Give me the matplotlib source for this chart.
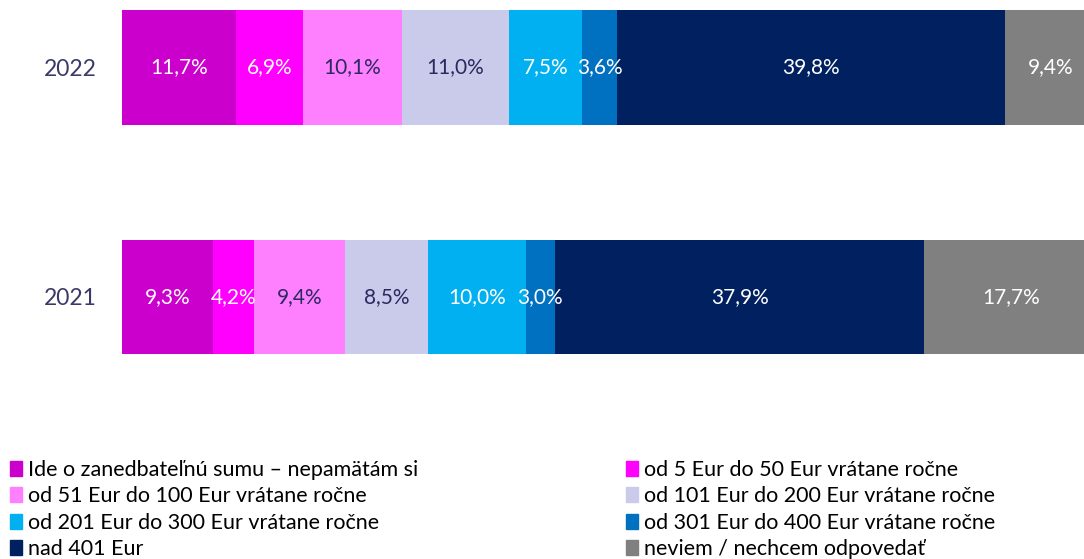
import matplotlib.pyplot as plt
from matplotlib.patches import Patch

plt.rcParams['font.family'] = ['Lato', 'DejaVu Sans']

years = ['2021', '2022']
categories = [
    'Ide o zanedbateľnú sumu – nepamätám si',
    'od 5 Eur do 50 Eur vrátane ročne',
    'od 51 Eur do 100 Eur vrátane ročne',
    'od 101 Eur do 200 Eur vrátane ročne',
    'od 201 Eur do 300 Eur vrátane ročne',
    'od 301 Eur do 400 Eur vrátane ročne',
    'nad 401 Eur',
    'neviem / nechcem odpovedať',
]
vals_2021 = [9.3, 4.2, 9.4, 8.5, 10.0, 3.0, 37.9, 17.7]
vals_2022 = [11.7, 6.9, 10.1, 11.0, 7.5, 3.6, 39.8, 9.4]

colors = ['#CC00CC', '#FF00FF', '#FF80FF', '#CACAEA',
          '#00B0F0', '#0070C0', '#002060', '#808080']
text_colors = ['white', 'white', '#2B2A60', '#2B2A60',
               'white', 'white', 'white', 'white']

fig = plt.figure(figsize=(10.84, 5.59), dpi=100)
# plot area runs a bit past the right edge of the picture, like the original
ax = fig.add_axes([0.1125, 0.2844, 0.8995, 0.7156])

data = [vals_2021, vals_2022]
left = [0.0, 0.0]
for i, cat in enumerate(categories):
    seg = [data[0][i], data[1][i]]
    ax.barh([0, 1], seg, left=left, height=0.5, color=colors[i], linewidth=0)
    for y in range(2):
        ax.text(left[y] + seg[y] / 2, y, f'{seg[y]:.1f}'.replace('.', ',') + '%',
                ha='center', va='center', color=text_colors[i], fontsize=15)
    left = [left[0] + seg[0], left[1] + seg[1]]

ax.set_xlim(0, 100)
ax.set_ylim(-0.4493, 1.2936)
ax.set_yticks([0, 1])
ax.set_yticklabels(years, fontsize=16.5, color='#3A3A6A')
ax.tick_params(axis='y', length=0, pad=18)
ax.set_xticks([])
for s in ax.spines.values():
    s.set_visible(False)

# legend filled row by row like the original
handles = [Patch(color=c) for c in colors]
order = [0, 2, 4, 6, 1, 3, 5, 7]
fig.legend([handles[k] for k in order], [categories[k] for k in order],
           ncol=2, loc='upper left', bbox_to_anchor=(0.0, 0.195),
           frameon=False, fontsize=15.5, handlelength=0.55, handleheight=0.7,
           handletextpad=0.3, columnspacing=9.65, labelspacing=0.3,
           borderaxespad=0, borderpad=0.45)

fig.savefig('out.png', dpi=100)
